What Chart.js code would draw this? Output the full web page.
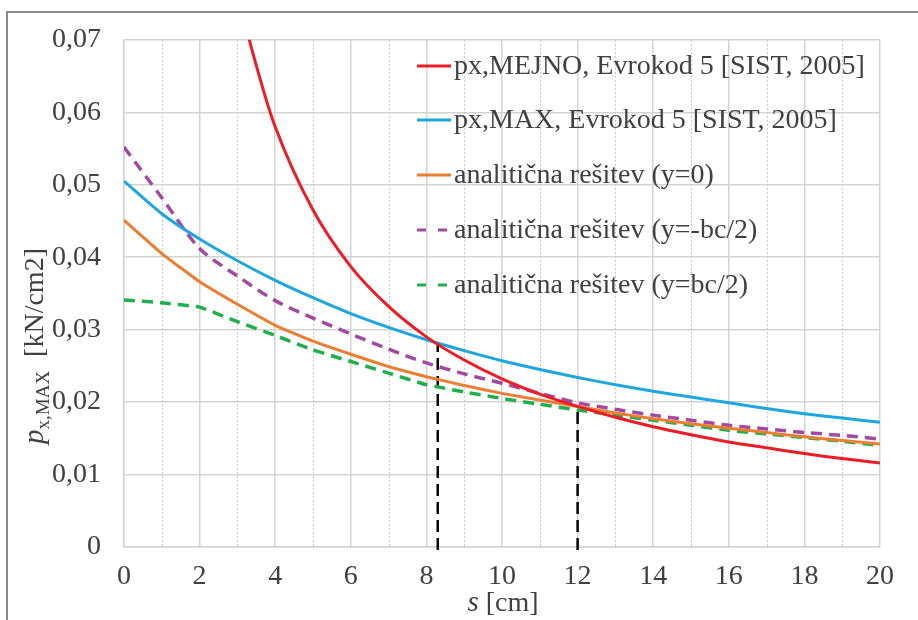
<!DOCTYPE html>
<html>
<head>
<meta charset="utf-8">
<script src="https://cdn.jsdelivr.net/npm/chart.js@4.4.1/dist/chart.umd.min.js"></script>
<style>
  body { margin: 0; background: #fff; }
  canvas { display: block; }
</style>
</head>
<body>
<canvas id="chart" width="918" height="620"></canvas>
<script>
// tick positions
const sTicks = [0, 2, 4, 6, 8, 10, 12, 14, 16, 18, 20];
const sMinor = [1, 3, 5, 7, 9, 11, 13, 15, 17, 19];
const pTicks = [0, 0.01, 0.02, 0.03, 0.04, 0.05, 0.06, 0.07];

// s [cm]
const sPoints = [0, 1, 2, 3, 4, 5, 6, 7, 8, 9, 10, 11, 12, 13, 14, 15, 16, 17, 18, 19, 20];
const sMejno = [3, 3.3, 4, 5, 6, 7, 8, 9, 10, 11, 12, 13, 14, 15, 16, 17, 18, 19, 20];

// p_x [kN/cm2]
const pMejno = [0.0773, 0.0703, 0.058, 0.0465, 0.0387, 0.0332, 0.029, 0.0258, 0.0232, 0.0211, 0.0194,
                0.0179, 0.0166, 0.0155, 0.0145, 0.0137, 0.0129, 0.0122, 0.0116];
const pMax = [0.0505, 0.0460, 0.0425, 0.0395, 0.0368, 0.0344, 0.0322, 0.0303, 0.0286, 0.0271, 0.0257,
              0.0245, 0.0234, 0.0224, 0.0215, 0.0207, 0.0199, 0.0191, 0.0184, 0.0178, 0.0172];
const pY0 = [0.0451, 0.0405, 0.0366, 0.0335, 0.0306, 0.0284, 0.0266, 0.0249, 0.0235, 0.0223, 0.0212,
             0.0203, 0.0194, 0.0185, 0.0177, 0.0170, 0.0164, 0.0158, 0.0152, 0.0147, 0.0142];
const pYminus = [0.0552, 0.0482, 0.0412, 0.0374, 0.0340, 0.0316, 0.0294, 0.0273, 0.0254, 0.0239, 0.0226,
                 0.0212, 0.0199, 0.0190, 0.0182, 0.0175, 0.0168, 0.0163, 0.0158, 0.0154, 0.0149];
const pYplus = [0.0341, 0.0337, 0.0331, 0.0311, 0.0292, 0.0272, 0.0256, 0.0240, 0.0224, 0.0214, 0.0205,
                0.0197, 0.0189, 0.0182, 0.0175, 0.0168, 0.0161, 0.0156, 0.0151, 0.0146, 0.0140];

// vertical marker lines
const markS = [8.3, 12];
const markP = [0.0281, 0.0195];

const seriesLabels = [
    'px,MEJNO, Evrokod 5 [SIST, 2005]',
    'px,MAX, Evrokod 5 [SIST, 2005]',
    'analitična rešitev (y=0)',
    'analitična rešitev (y=-bc/2)',
    'analitična rešitev (y=bc/2)'
];

const serif = '"Liberation Serif", "Times New Roman", serif';
const textColor = '#404040';
const gridColor = '#d3d3d3';

function pts(xs, ys) {
    return xs.map((x, i) => ({ x: x, y: ys[i] }));
}

function line(label, xs, ys, color, dash) {
    return {
        label: label,
        data: pts(xs, ys),
        borderColor: color,
        backgroundColor: color,
        borderWidth: dash ? 3.5 : 3,
        borderDash: dash || [],
        pointRadius: 0,
        tension: 0.3,
        fill: false
    };
}

const datasets = [
    line(seriesLabels[0], sMejno, pMejno, '#ee1c25'),
    line(seriesLabels[1], sPoints, pMax, '#1ea6e0'),
    line(seriesLabels[2], sPoints, pY0, '#ed7d31'),
    line(seriesLabels[3], sPoints, pYminus, '#a349a4', [11, 7]),
    line(seriesLabels[4], sPoints, pYplus, '#20b04b', [11, 7])
];
datasets[2].tension = 0.1;
datasets[4].tension = 0.1;

markS.forEach((s, i) => {
    datasets.push({
        label: '',
        data: [{ x: s, y: -0.0004 }, { x: s, y: markP[i] }],
        borderColor: '#000',
        borderWidth: 2.5,
        borderDash: [12, 6],
        pointRadius: 0,
        clip: false
    });
});

const extras = {
    id: 'extras',
    beforeDraw(chart) {
        const ctx = chart.ctx;
        ctx.save();
        ctx.fillStyle = '#fff';
        ctx.fillRect(0, 0, chart.width, chart.height);
        ctx.strokeStyle = '#8a8a8a';
        ctx.lineWidth = 2;
        ctx.beginPath();
        ctx.moveTo(7, chart.height);
        ctx.lineTo(7, 12);
        ctx.lineTo(chart.width, 12);
        ctx.stroke();
        ctx.restore();
    },
    beforeDatasetsDraw(chart) {
        const ctx = chart.ctx;
        const area = chart.chartArea;
        const x = chart.scales.x;
        ctx.save();
        ctx.strokeStyle = '#c4c4c4';
        ctx.lineWidth = 1;
        ctx.setLineDash([2, 2]);
        sMinor.forEach(s => {
            const px = Math.round(x.getPixelForValue(s)) + 0.5;
            ctx.beginPath();
            ctx.moveTo(px, area.top);
            ctx.lineTo(px, area.bottom);
            ctx.stroke();
        });
        ctx.restore();
    },
    afterDraw(chart) {
        const ctx = chart.ctx;
        ctx.save();
        // legend
        const rowY = [66, 120, 175, 230, 285];
        chart.data.datasets.forEach((ds, i) => {
            if (!ds.label) return;
            const y = rowY[i];
            ctx.strokeStyle = ds.borderColor;
            ctx.lineWidth = 3;
            ctx.setLineDash(ds.borderDash.length ? [9, 12] : []);
            ctx.beginPath();
            ctx.moveTo(417, y);
            ctx.lineTo(451, y);
            ctx.stroke();
            ctx.setLineDash([]);
            ctx.fillStyle = textColor;
            ctx.font = '28px ' + serif;
            ctx.textBaseline = 'middle';
            ctx.textAlign = 'left';
            ctx.fillText(ds.label, 454, y + 1);
        });

        // y axis title
        ctx.translate(35, 346);
        ctx.rotate(-Math.PI / 2);
        const parts = [
            { t: 'p', f: 'italic 29px ' + serif, dy: 0 },
            { t: 'x,MAX', f: '19px ' + serif, dy: 6 },
            { t: '  [kN/cm2]', f: '28px ' + serif, dy: 0 }
        ];
        let total = 0;
        parts.forEach(p => { ctx.font = p.f; p.w = ctx.measureText(p.t).width; total += p.w; });
        let cx = -total / 2;
        ctx.textBaseline = 'alphabetic';
        ctx.textAlign = 'left';
        ctx.fillStyle = textColor;
        parts.forEach(p => {
            ctx.font = p.f;
            ctx.fillText(p.t, cx, 8 + p.dy);
            cx += p.w;
        });
        ctx.restore();

        // x axis title
        ctx.save();
        const xp = [
            { t: 's', f: 'italic 29px ' + serif },
            { t: ' [cm]', f: '28px ' + serif }
        ];
        let tw = 0;
        xp.forEach(p => { ctx.font = p.f; p.w = ctx.measureText(p.t).width; tw += p.w; });
        let xx = 503 - tw / 2;
        ctx.fillStyle = textColor;
        ctx.textBaseline = 'alphabetic';
        xp.forEach(p => {
            ctx.font = p.f;
            ctx.fillText(p.t, xx, 611);
            xx += p.w;
        });
        ctx.restore();
    }
};

new Chart(document.getElementById('chart').getContext('2d'), {
    type: 'line',
    data: { datasets: datasets },
    options: {
        responsive: false,
        animation: false,
        devicePixelRatio: 1,
        layout: { padding: { top: 38, right: 38, left: 0, bottom: 0 } },
        plugins: {
            legend: { display: false },
            tooltip: { enabled: false }
        },
        scales: {
            x: {
                type: 'linear',
                min: 0,
                max: 20,
                afterBuildTicks: axis => { axis.ticks = sTicks.map(v => ({ value: v })); },
                afterFit: axis => { axis.height = 73; },
                grid: { color: gridColor, lineWidth: 1.5, drawTicks: false },
                border: { color: gridColor, width: 1.5 },
                ticks: {
                    padding: 13,
                    color: textColor,
                    font: { family: serif, size: 28 },
                    maxRotation: 0
                }
            },
            y: {
                type: 'linear',
                min: 0,
                max: 0.07,
                afterBuildTicks: axis => { axis.ticks = pTicks.map(v => ({ value: v })); },
                afterFit: axis => { axis.width = 124; },
                grid: { color: gridColor, lineWidth: 1.5, drawTicks: false },
                border: { color: gridColor, width: 1.5 },
                ticks: {
                    padding: 23,
                    color: textColor,
                    font: { family: serif, size: 28 },
                    callback: v => v === 0 ? '0' : v.toFixed(2).replace('.', ',')
                }
            }
        }
    },
    plugins: [extras]
});
</script>
</body>
</html>
